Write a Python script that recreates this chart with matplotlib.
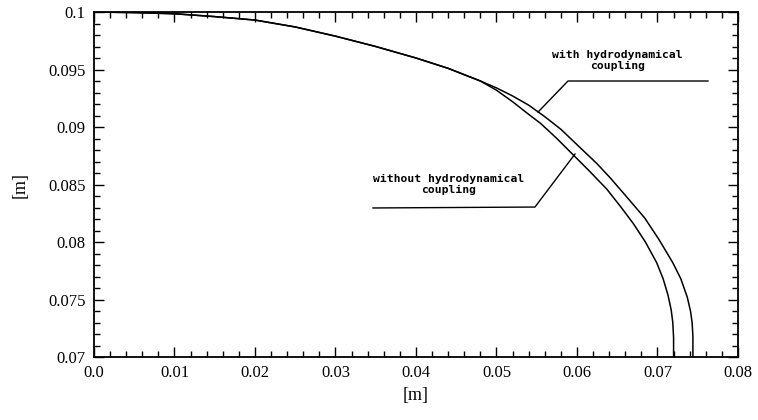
import numpy as np
import matplotlib
matplotlib.use('Agg')
import matplotlib.pyplot as plt
from matplotlib.ticker import MultipleLocator

# Constants
_OUT_FILE = 'out.png'

# curve shared by both cases (before they split apart)
x_shared = [0.0, 0.005, 0.010, 0.015, 0.020, 0.025, 0.030, 0.035, 0.040, 0.044, 0.048]
y_shared = [0.1000, 0.09995, 0.09985, 0.0996, 0.0993, 0.0987, 0.0979, 0.0970, 0.0960, 0.0951, 0.0940]

# with hydrodynamical coupling (outer curve)
x_with = [0.050, 0.052, 0.054, 0.056, 0.058, 0.0607, 0.0625, 0.0641, 0.0662, 0.0684,
          0.0702, 0.0719, 0.0729, 0.0737, 0.0741, 0.0743, 0.0744, 0.0744]
y_with = [0.0934, 0.0927, 0.0919, 0.0909, 0.0898, 0.0880, 0.0868, 0.0856, 0.0839, 0.0821,
          0.0802, 0.0782, 0.0768, 0.0752, 0.0740, 0.0730, 0.0718, 0.0700]

# without hydrodynamical coupling (inner curve)
x_without = [0.050, 0.052, 0.054, 0.0555, 0.0575, 0.0595, 0.0615, 0.0637, 0.0655, 0.0670,
             0.0685, 0.0699, 0.0707, 0.0713, 0.0717, 0.0719, 0.0720, 0.0720]
y_without = [0.0932, 0.0922, 0.0911, 0.0903, 0.0890, 0.0876, 0.0862, 0.0846, 0.0830, 0.0816,
             0.0800, 0.0782, 0.0768, 0.0754, 0.0741, 0.0730, 0.0717, 0.0700]

x_ticks = [0.0, 0.01, 0.02, 0.03, 0.04, 0.05, 0.06, 0.07, 0.08]
x_ticklabels = ['0.0', '0.01', '0.02', '0.03', '0.04', '0.05', '0.06', '0.07', '0.08']
y_ticks = [0.07, 0.075, 0.08, 0.085, 0.09, 0.095, 0.1]
y_ticklabels = ['0.07', '0.075', '0.08', '0.085', '0.09', '0.095', '0.1']

# leader lines of the two labels
lead_with_x = [0.05516, 0.05888, 0.07627]
lead_with_y = [0.0913, 0.0940, 0.0940]
lead_without_x = [0.03466, 0.05478, 0.05975]
lead_without_y = [0.08296, 0.08304, 0.08765]


def main():
    fig = plt.figure(figsize=(7.58, 4.2), dpi=100)
    ax = fig.add_axes([0.124, 0.15, 0.8496, 0.8214])

    xw = x_shared + x_with
    yw = y_shared + y_with
    xo = x_shared + x_without
    yo = y_shared + y_without
    ax.plot(xw, yw, color='black', lw=1.1)
    ax.plot(xo, yo, color='black', lw=1.1)

    ax.plot(lead_with_x, lead_with_y, color='black', lw=1.0)
    ax.plot(lead_without_x, lead_without_y, color='black', lw=1.0)

    ax.text(0.0650, 0.0958, 'with hydrodynamical\ncoupling', ha='center', va='center',
            family='DejaVu Sans Mono', fontweight='bold', fontsize=8.2, linespacing=1.15)
    ax.text(0.0441, 0.0850, 'without hydrodynamical\ncoupling', ha='center', va='center',
            family='DejaVu Sans Mono', fontweight='bold', fontsize=8.2, linespacing=1.15)

    ax.set_xlim(0.0, 0.08)
    ax.set_ylim(0.07, 0.1)
    ax.set_xticks(x_ticks)
    ax.set_xticklabels(x_ticklabels)
    ax.set_yticks(y_ticks)
    ax.set_yticklabels(y_ticklabels)
    ax.xaxis.set_minor_locator(MultipleLocator(0.002))
    ax.yaxis.set_minor_locator(MultipleLocator(0.001))
    ax.tick_params(which='both', direction='in', top=True, right=True, width=1.0)
    ax.tick_params(which='major', length=7, labelsize=12, pad=6)
    ax.tick_params(which='minor', length=4)
    for lab in ax.get_xticklabels() + ax.get_yticklabels():
        lab.set_family('Liberation Serif')
    for sp in ax.spines.values():
        sp.set_linewidth(1.3)

    ax.set_xlabel('[m]', family='Liberation Serif', fontsize=13, labelpad=4)
    ax.set_ylabel('[m]', family='Liberation Serif', fontsize=13, labelpad=14)

    fig.savefig(_OUT_FILE, dpi=100)


if __name__ == '__main__':
    main()
